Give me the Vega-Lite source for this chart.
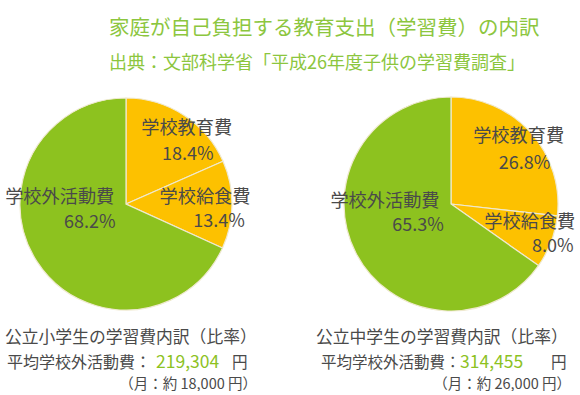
{
  "$schema": "https://vega.github.io/schema/vega-lite/v6.json",
  "padding": {"left": 4, "top": 18, "right": 0, "bottom": 0},
  "background": "white",
  "spacing": 15.5,
  "config": {"view": {"stroke": null}, "text": {"font": "Noto Sans CJK JP"}},
  "title": {
    "text": "家庭が自己負担する教育支出（学習費）の内訳",
    "subtitle": "出典：文部科学省「平成26年度子供の学習費調査」",
    "anchor": "start", "dx": 105, "offset": 21,
    "font": "Noto Sans CJK JP", "subtitleFont": "Noto Sans CJK JP",
    "fontSize": 20.5, "subtitleFontSize": 18, "fontWeight": "normal",
    "color": "#8cc63e", "subtitleColor": "#8cc63e", "subtitlePadding": 16
  },
  "datasets": {
    "pieL": [
      {"no": 1, "item": "学校教育費", "share": 0.184},
      {"no": 2, "item": "学校給食費", "share": 0.134},
      {"no": 3, "item": "学校外活動費", "share": 0.682}
    ],
    "pieR": [
      {"no": 1, "item": "学校教育費", "share": 0.268},
      {"no": 2, "item": "学校給食費", "share": 0.080},
      {"no": 3, "item": "学校外活動費", "share": 0.653}
    ],
    "capL": [
      {"part": "heading", "line": 1, "text": "公立小学生の学習費内訳（比率）"},
      {"part": "label", "line": 2, "text": "平均学校外活動費："},
      {"part": "amount", "line": 2, "text": "219,304"},
      {"part": "unit", "line": 2, "text": "円"},
      {"part": "monthly", "line": 3, "text": "（月：約 18,000 円）"}
    ],
    "capR": [
      {"part": "heading", "line": 1, "text": "公立中学生の学習費内訳（比率）"},
      {"part": "label", "line": 2, "text": "平均学校外活動費："},
      {"part": "amount", "line": 2, "text": "314,455"},
      {"part": "unit", "line": 2, "text": "円"},
      {"part": "monthly", "line": 3, "text": "（月：約 26,000 円）"}
    ]
  },
  "vconcat": [
    {
      "spacing": 78,
      "hconcat": [
        {
          "width": 244, "height": 220,
          "data": {"name": "pieL"},
          "encoding": {
            "theta": {"field": "share", "type": "quantitative", "stack": true},
            "order": {"field": "no", "type": "quantitative"}
          },
          "layer": [
            {
              "mark": {"type": "arc", "outerRadius": 106, "stroke": "#efe9cf", "strokeWidth": 1.2},
              "encoding": {"color": {"field": "item", "type": "nominal", "legend": null,
                "scale": {"domain": ["学校教育費", "学校給食費", "学校外活動費"], "range": ["#fdc100", "#fdc100", "#8dc21f"]}}}
            },
            {
              "mark": {"type": "text", "radius": 80, "fontSize": 18.2, "color": "#4a4a4a", "baseline": "middle",
                "dx": {"expr": "datum.item === '学校教育費' ? 17 : datum.item === '学校給食費' ? -1 : 1"},
                "dy": {"expr": "datum.item === '学校教育費' ? -8 : datum.item === '学校給食費' ? -7 : -49"}},
              "encoding": {"text": {"field": "item", "type": "nominal"}}
            },
            {
              "mark": {"type": "text", "radius": 80, "fontSize": 18, "color": "#4a4a4a", "baseline": "middle",
                "dx": {"expr": "datum.item === '学校教育費' ? 18 : datum.item === '学校給食費' ? 13 : 31"},
                "dy": {"expr": "datum.item === '学校教育費' ? 18 : datum.item === '学校給食費' ? 17 : -24"}},
              "encoding": {"text": {"field": "share", "type": "quantitative", "format": ".1%"}}
            }
          ]
        },
        {
          "width": 244, "height": 220,
          "data": {"name": "pieR"},
          "encoding": {
            "theta": {"field": "share", "type": "quantitative", "stack": true},
            "order": {"field": "no", "type": "quantitative"}
          },
          "layer": [
            {
              "mark": {"type": "arc", "outerRadius": 107, "stroke": "#efe9cf", "strokeWidth": 1.2},
              "encoding": {"color": {"field": "item", "type": "nominal", "legend": null,
                "scale": {"domain": ["学校教育費", "学校給食費", "学校外活動費"], "range": ["#fdc100", "#fdc100", "#8dc21f"]}}}
            },
            {
              "mark": {"type": "text", "radius": 80, "fontSize": 18.2, "color": "#4a4a4a", "baseline": "middle",
                "dx": {"expr": "datum.item === '学校教育費' ? 8 : datum.item === '学校給食費' ? 4 : 5"},
                "dy": {"expr": "datum.item === '学校教育費' ? -14 : datum.item === '学校給食費' ? -9 : -39"}},
              "encoding": {"text": {"field": "item", "type": "nominal"}}
            },
            {
              "mark": {"type": "text", "radius": 80, "fontSize": 18, "color": "#4a4a4a", "baseline": "middle",
                "dx": {"expr": "datum.item === '学校教育費' ? 14 : datum.item === '学校給食費' ? 27 : 38"},
                "dy": {"expr": "datum.item === '学校教育費' ? 13 : datum.item === '学校給食費' ? 15 : -15"}},
              "encoding": {"text": {"field": "share", "type": "quantitative", "format": ".1%"}}
            }
          ]
        }
      ]
    },
    {
      "spacing": 54,
      "hconcat": [
        {
          "width": 256, "height": 50,
          "data": {"name": "capL"},
          "encoding": {
            "y": {"field": "line", "type": "ordinal", "scale": {"type": "point", "padding": 0}, "axis": null},
            "text": {"field": "text", "type": "nominal"}
          },
          "layer": [
            {"transform": [{"filter": "datum.part === 'heading'"}],
             "mark": {"type": "text", "x": 1, "align": "left", "baseline": "middle", "fontSize": 16.8, "color": "#4a4a4a"}},
            {"transform": [{"filter": "datum.part === 'label'"}],
             "mark": {"type": "text", "x": 3, "align": "left", "baseline": "middle", "fontSize": 16, "color": "#4a4a4a"}},
            {"transform": [{"filter": "datum.part === 'amount'"}],
             "mark": {"type": "text", "x": 152, "align": "left", "baseline": "middle", "fontSize": 17.5, "color": "#8dc21f"}},
            {"transform": [{"filter": "datum.part === 'unit'"}],
             "mark": {"type": "text", "x": 228, "align": "left", "baseline": "middle", "fontSize": 15.6, "color": "#4a4a4a"}},
            {"transform": [{"filter": "datum.part === 'monthly'"}],
             "mark": {"type": "text", "x": 253, "dy": -3, "align": "right", "baseline": "middle", "fontSize": 14.5, "color": "#4a4a4a"}}
          ]
        },
        {
          "width": 256, "height": 50,
          "data": {"name": "capR"},
          "encoding": {
            "y": {"field": "line", "type": "ordinal", "scale": {"type": "point", "padding": 0}, "axis": null},
            "text": {"field": "text", "type": "nominal"}
          },
          "layer": [
            {"transform": [{"filter": "datum.part === 'heading'"}],
             "mark": {"type": "text", "x": 2, "align": "left", "baseline": "middle", "fontSize": 16.8, "color": "#4a4a4a"}},
            {"transform": [{"filter": "datum.part === 'label'"}],
             "mark": {"type": "text", "x": 7, "align": "left", "baseline": "middle", "fontSize": 15.5, "color": "#4a4a4a"}},
            {"transform": [{"filter": "datum.part === 'amount'"}],
             "mark": {"type": "text", "x": 146, "align": "left", "baseline": "middle", "fontSize": 17.5, "color": "#8dc21f"}},
            {"transform": [{"filter": "datum.part === 'unit'"}],
             "mark": {"type": "text", "x": 237, "align": "left", "baseline": "middle", "fontSize": 15.6, "color": "#4a4a4a"}},
            {"transform": [{"filter": "datum.part === 'monthly'"}],
             "mark": {"type": "text", "x": 257, "dy": -3, "align": "right", "baseline": "middle", "fontSize": 14.5, "color": "#4a4a4a"}}
          ]
        }
      ]
    }
  ]
}
